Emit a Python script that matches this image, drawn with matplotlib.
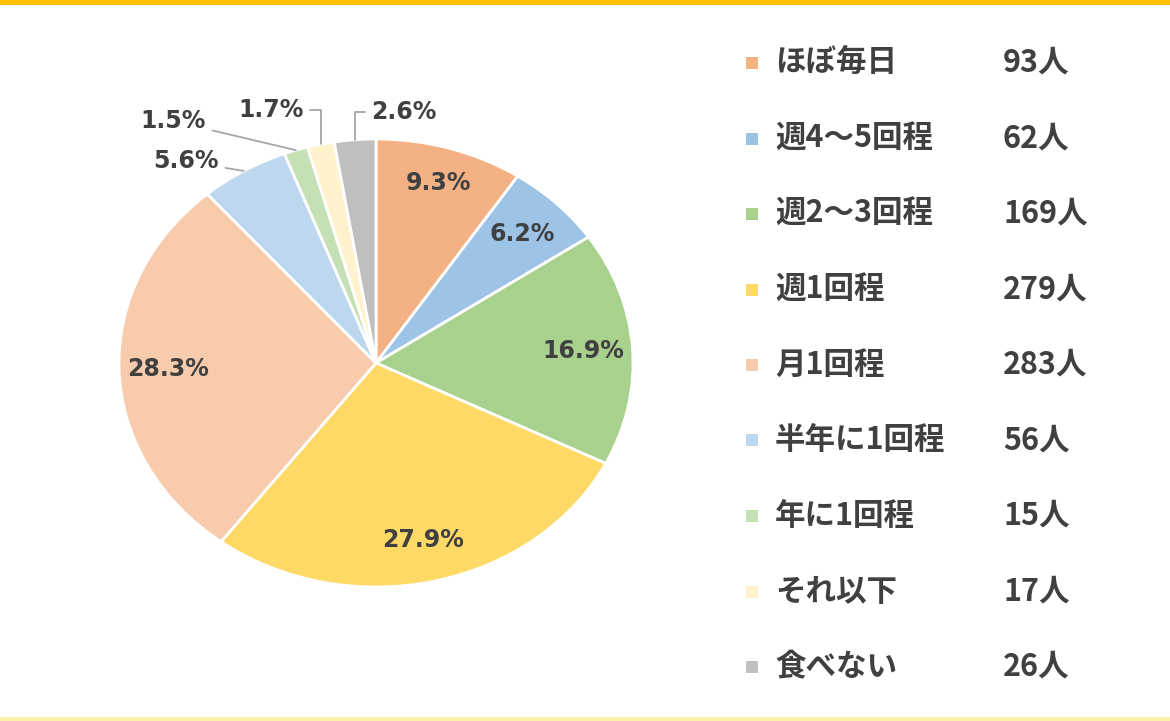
import numpy as np
import matplotlib
matplotlib.use("Agg")
import matplotlib.pyplot as plt
from matplotlib.patches import Rectangle

plt.rcParams['font.family'] = ['Noto Sans CJK JP', 'DejaVu Sans']

# data
categories = ["ほぼ毎日", "週4～5回程", "週2～3回程", "週1回程", "月1回程",
              "半年に1回程", "年に1回程", "それ以下", "食べない"]
counts = [93, 62, 169, 279, 283, 56, 15, 17, 26]
colors = ["#F4B183", "#9DC3E6", "#A9D18E", "#FFD966", "#F8CBAD",
          "#BDD7EE", "#C5E0B4", "#FFF2CC", "#BFBFBF"]

txt_color = "#404040"
W, H = 1170, 721
fig = plt.figure(figsize=(W / 100, H / 100), dpi=100)
fig.patch.set_facecolor("white")

# pie axes spans the (elliptical) pie bounding box
ax = fig.add_axes([119 / W, (H - 587) / H, 514 / W, 448 / H])
total = sum(counts)
wedges, _ = ax.pie(counts, colors=colors, startangle=90, counterclock=False,
                   radius=1.0, wedgeprops=dict(edgecolor="white", linewidth=2))
ax.set_aspect("auto")
ax.set_xlim(-1, 1)
ax.set_ylim(-1, 1)
ax.axis("off")

pct_font = dict(family="DejaVu Sans", fontsize=17, fontweight="bold", color=txt_color)

# labels: inside for big slices, outside with leader lines for small ones
outside = {5: (-0.74, 0.90, "straight"), 6: (-0.79, 1.08, "straight"),
           7: (-0.41, 1.13, "angle"), 8: (0.11, 1.12, "angle")}
inside_dist = {0: 0.84}
for i, w in enumerate(wedges):
    pct = "%.1f%%" % (counts[i] / total * 100)
    mid = np.deg2rad((w.theta1 + w.theta2) / 2)
    if i in outside:
        tx, ty, style = outside[i]
        ex, ey = np.cos(mid), np.sin(mid)
        cs = "angle,angleA=0,angleB=90,rad=0" if style == "angle" else "arc3"
        ax.annotate(pct, xy=(ex, ey), xytext=(tx, ty), ha="center", va="center",
                    annotation_clip=False, **pct_font,
                    arrowprops=dict(arrowstyle="-", color="#A6A6A6", lw=1.3,
                                    connectionstyle=cs, shrinkA=3, shrinkB=0))
    else:
        d = inside_dist.get(i, 0.81)
        ax.text(d * np.cos(mid), d * np.sin(mid), pct, ha="center", va="center",
                **pct_font)

# legend drawn by hand
top_y = 63
step = 75.5
for i, (cat, n) in enumerate(zip(categories, counts)):
    yp = top_y + i * step
    yf = 1 - yp / H
    fig.patches.append(Rectangle((746 / W, 1 - (yp + 6) / H), 12 / W, 12 / H,
                                 transform=fig.transFigure, facecolor=colors[i],
                                 edgecolor="none"))
    fig.text(775 / W, yf, cat, ha="left", va="center", fontsize=22,
             fontweight="bold", color=txt_color)
    fig.text(1003 / W, yf, "%d人" % n, ha="left", va="center", fontsize=22,
             fontweight="bold", color=txt_color)

# frame lines top / bottom
fig.patches.append(Rectangle((0, 1 - 5 / H), 1, 5 / H, transform=fig.transFigure,
                             facecolor="#FFC000", edgecolor="none"))
fig.patches.append(Rectangle((0, 0), 1, 4 / H, transform=fig.transFigure,
                             facecolor="#FFF0A8", edgecolor="none"))

fig.savefig("out.png", dpi=100)
